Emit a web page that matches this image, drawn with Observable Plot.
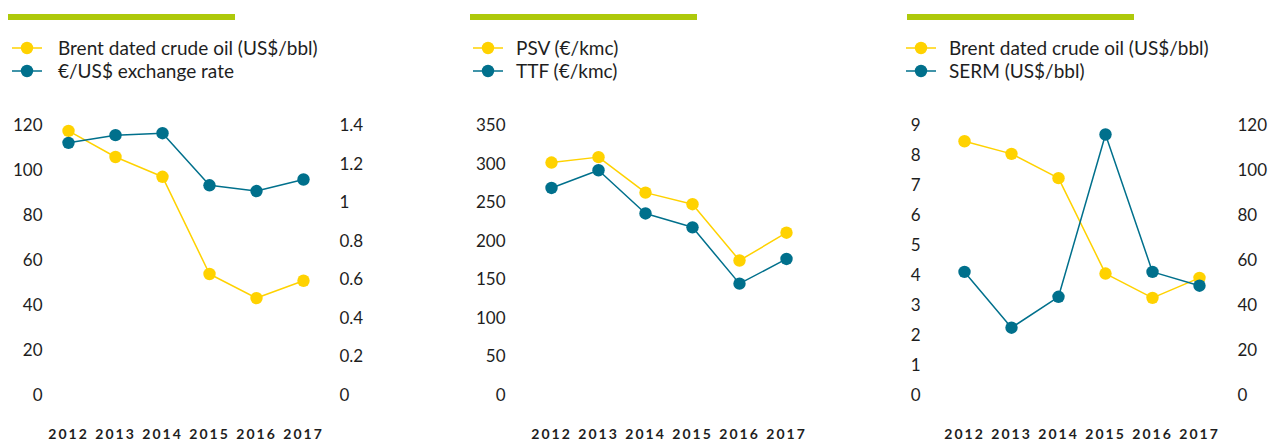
<!DOCTYPE html>
<html>
<head>
<meta charset="utf-8">
<script src="https://cdn.jsdelivr.net/npm/d3@7"></script>
<script src="https://cdn.jsdelivr.net/npm/@observablehq/plot@0.6"></script>
<style>
  html, body { margin: 0; padding: 0; background: #fff; }
  #root { position: relative; width: 1268px; height: 441px; overflow: hidden; font-family: Lato, "Open Sans", sans-serif; color: #1e1e1e; }
  .panel { position: absolute; top: 0; height: 441px; }
  .bar { position: absolute; top: 14px; height: 6px; background: #AEC90B; }
  .leg { position: absolute; font-size: 19px; line-height: 23px; white-space: nowrap; }
  .leg .row { position: relative; height: 23px; }
  .leg svg { position: absolute; left: 0; top: 0; }
  .leg span { position: absolute; top: 0; }
  .plotwrap { position: absolute; left: 0; top: 100px; }
  .p g[aria-label="x-axis tick label"] { letter-spacing: 2px; font-weight: 700; }
</style>
</head>
<body>
<div id="root"></div>
<script>
const years = [2012, 2013, 2014, 2015, 2016, 2017];

// Panel 1
const brentA = [117.6, 106.0, 97.2, 54.0, 43.3, 51.0];
const eurUsd = [1.31, 1.35, 1.36, 1.09, 1.06, 1.12];
const ticksA_left = [0, 20, 40, 60, 80, 100, 120];
const ticksA_right = [0, 0.2, 0.4, 0.6, 0.8, 1, 1.2, 1.4];

// Panel 2
const psv = [302, 309, 263, 248, 175, 211];
const ttf = [269, 292, 236, 218, 145, 177];
const ticksB_left = [0, 50, 100, 150, 200, 250, 300, 350];

// Panel 3
const brentC = [113.0, 107.4, 96.6, 54.2, 43.4, 52.3];
const serm = [4.12, 2.26, 3.29, 8.70, 4.12, 3.66];
const ticksC_left = [0, 1, 2, 3, 4, 5, 6, 7, 8, 9];
const ticksC_right = [0, 20, 40, 60, 80, 100, 120];

const YELLOW = "#FFD200";
const TEAL = "#00708C";
const root = document.getElementById("root");

function makePanel(cfg) {
  const div = document.createElement("div");
  div.className = "panel";
  div.style.left = cfg.left + "px";
  div.style.width = cfg.width + "px";
  root.appendChild(div);

  const bar = document.createElement("div");
  bar.className = "bar";
  bar.style.left = cfg.barLeft + "px";
  bar.style.width = cfg.barWidth + "px";
  div.appendChild(bar);

  const leg = document.createElement("div");
  leg.className = "leg";
  leg.style.left = cfg.legLeft + "px";
  leg.style.top = "36px";
  cfg.legend.forEach(([label, color]) => {
    const row = document.createElement("div");
    row.className = "row";
    row.innerHTML = `<svg width="32" height="23"><line x1="0" x2="30" y1="12" y2="12" stroke="${color}" stroke-width="1.5"/><circle cx="15" cy="12" r="6.2" fill="${color}"/></svg><span style="left:${cfg.textOff}px">${label}</span>`;
    leg.appendChild(row);
  });
  div.appendChild(leg);

  const k = cfg.rightMax ? cfg.leftMax / cfg.rightMax : 1;
  const rows1 = years.map((y, i) => ({year: y, v: cfg.s1[i] * (cfg.s1Right ? k : 1)}));
  const rows2 = years.map((y, i) => ({year: y, v: cfg.s2[i] * (cfg.s2Right ? k : 1)}));

  const marks = [
    Plot.axisY(cfg.leftTicks, {anchor: "left", tickSize: 0, tickPadding: cfg.padL, fontSize: 17, label: null}),
    Plot.axisX(years, {tickSize: 0, tickPadding: 34, fontSize: 14, tickFormat: d => String(d), label: null}),
  ];
  if (cfg.rightTicks) {
    marks.push(Plot.axisY(cfg.rightTicks.map(t => t * k), {
      anchor: "right", tickSize: 0, tickPadding: cfg.padR, fontSize: 17, label: null,
      textAnchor: "start",
      tickFormat: d => String(+(d / k).toFixed(2))
    }));
  }
  marks.push(
    Plot.line(rows1, {x: "year", y: "v", stroke: YELLOW, strokeWidth: 1.5}),
    Plot.dot(rows1, {x: "year", y: "v", fill: YELLOW, r: 6.2}),
    Plot.line(rows2, {x: "year", y: "v", stroke: TEAL, strokeWidth: 1.5}),
    Plot.dot(rows2, {x: "year", y: "v", fill: TEAL, r: 6.2})
  );

  const svg = Plot.plot({
    className: "p",
    width: cfg.width,
    height: 341,
    marginTop: 25,
    marginBottom: 46,
    marginLeft: cfg.mL,
    marginRight: cfg.mR,
    x: {type: "point", domain: years, padding: 0, label: null},
    y: {domain: [0, cfg.leftMax], label: null},
    style: {fontFamily: "Lato, 'Open Sans', sans-serif", color: "#1e1e1e", background: "transparent", overflow: "visible"},
    marks
  });
  const wrap = document.createElement("div");
  wrap.className = "plotwrap";
  wrap.appendChild(svg);
  div.appendChild(wrap);
}

makePanel({
  left: 0, width: 420, mL: 66, mR: 116,
  barLeft: 8, barWidth: 227, legLeft: 12, textOff: 46,
  legend: [["Brent dated crude oil (US$/bbl)", YELLOW], ["€/US$ exchange rate", TEAL]],
  leftMax: 120, leftTicks: ticksA_left, padL: 24,
  rightMax: 1.4, rightTicks: ticksA_right, padR: 35,
  s1: brentA, s1Right: false, s2: eurUsd, s2Right: true
});

makePanel({
  left: 440, width: 420, mL: 110, mR: 73,
  barLeft: 30, barWidth: 227, legLeft: 33, textOff: 43,
  legend: [["PSV (€/kmc)", YELLOW], ["TTF (€/kmc)", TEAL]],
  leftMax: 350, leftTicks: ticksB_left, padL: 45,
  s1: psv, s1Right: false, s2: ttf, s2Right: false
});

makePanel({
  left: 880, width: 388, mL: 83, mR: 69,
  barLeft: 27, barWidth: 227, legLeft: 26, textOff: 43,
  legend: [["Brent dated crude oil (US$/bbl)", YELLOW], ["SERM (US$/bbl)", TEAL]],
  leftMax: 9, leftTicks: ticksC_left, padL: 43,
  rightMax: 120, rightTicks: ticksC_right, padR: 38,
  s1: brentC, s1Right: true, s2: serm, s2Right: false
});
</script>
</body>
</html>
